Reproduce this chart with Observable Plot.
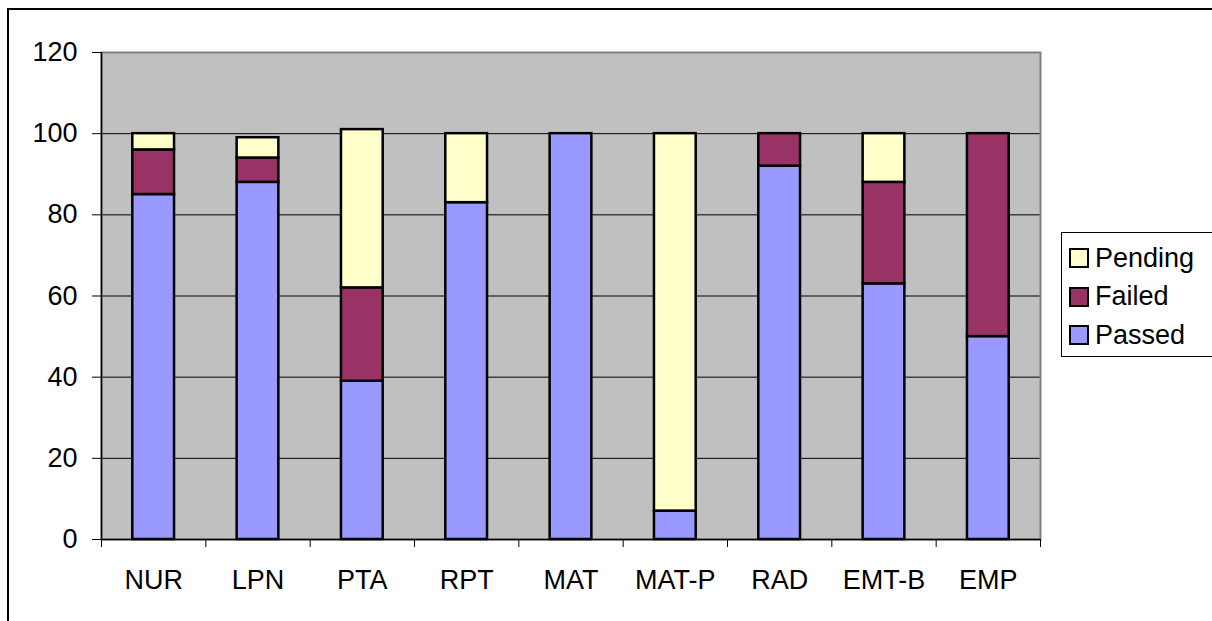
<!DOCTYPE html>
<html>
<head>
<meta charset="utf-8">
<script src="https://cdn.jsdelivr.net/npm/d3@7"></script>
<script src="https://cdn.jsdelivr.net/npm/@observablehq/plot@0.6"></script>
<style>
  html, body { margin: 0; padding: 0; background: #fff; }
  #wrap { position: relative; width: 1212px; height: 621px; overflow: hidden; font-family: "Liberation Sans", Arial, sans-serif; }
  #border { position: absolute; left: 7px; top: 8px; width: 1220px; height: 640px; border-left: 2px solid #000; border-top: 2px solid #000; box-sizing: border-box; }
  #legend { position: absolute; left: 1061px; top: 232px; width: 170px; height: 125px; border: 1px solid #000; background: #fff; box-sizing: border-box; }
  .item { position: absolute; left: 7px; height: 28px; display: flex; align-items: center; font-size: 27px; color: #000; }
  .sw { width: 20px; height: 20px; border: 2px solid #000; box-sizing: border-box; margin-right: 6px; }
  #chart { position: absolute; left: 0; top: 0; }
</style>
</head>
<body>
<div id="wrap">
  <div id="border"></div>
  <div id="chart"></div>
  <div id="legend"></div>
</div>
<script>
const categories = ["NUR", "LPN", "PTA", "RPT", "MAT", "MAT-P", "RAD", "EMT-B", "EMP"];
const passed  = [85, 88, 39, 83, 100, 7, 92, 63, 50];
const failed  = [11, 6, 23, 0, 0, 0, 8, 25, 50];
const pending = [4, 5, 39, 17, 0, 93, 0, 12, 0];
const seriesNames = ["Passed", "Failed", "Pending"];
const seriesColors = ["#9999FF", "#993366", "#FFFFCC"];
const yTicks = [0, 20, 40, 60, 80, 100, 120];

const seriesValues = [passed, failed, pending];
const rows = [];
categories.forEach((c, i) => {
  let base = 0;
  seriesValues.forEach((vals, s) => {
    const v = vals[i];
    if (v > 0) {
      rows.push({cat: c, series: seriesNames[s], x1: i + 0.3, x2: i + 0.7, y1: base, y2: base + v});
    }
    base += v;
  });
});

const boundaries = d3.range(categories.length + 1);
const centers = categories.map((c, i) => i + 0.5);

const chart = Plot.plot({
  width: 1212,
  height: 621,
  marginTop: 52,
  marginRight: 172,
  marginBottom: 82,
  marginLeft: 101,
  style: {fontSize: "27px", fontFamily: "'Liberation Sans', Arial, sans-serif", background: "transparent", color: "#000"},
  x: {type: "linear", domain: [0, categories.length], axis: null},
  y: {domain: [0, 120], axis: null},
  color: {domain: seriesNames, range: seriesColors},
  marks: [
    Plot.frame({fill: "#C0C0C0", stroke: null}),
    Plot.ruleY(yTicks.filter(d => d > 0 && d < 120), {stroke: "#000", strokeWidth: 1}),
    Plot.frame({stroke: "#808080", strokeWidth: 2}),
    Plot.rectY(rows, {x1: "x1", x2: "x2", y1: "y1", y2: "y2", fill: "series", stroke: "#000", strokeWidth: 2.5}),
    Plot.ruleX([0], {stroke: "#000", strokeWidth: 1.5}),
    Plot.ruleY([0], {stroke: "#000", strokeWidth: 1.5}),
    Plot.axisY({ticks: yTicks, tickSize: 9, tickPadding: 15, tickFormat: d => String(d), stroke: "#000", fill: "#000", fontSize: 27}),
    Plot.axisX({ticks: boundaries, tickSize: 8, tickFormat: () => "", stroke: "#000"}),
    Plot.axisX({ticks: centers, tickSize: 0, tickPadding: 30, tickFormat: d => categories[Math.round(d - 0.5)], fill: "#000", fontSize: 27})
  ]
});
document.getElementById("chart").appendChild(chart);

const legend = document.getElementById("legend");
const legendOrder = [2, 1, 0];
legendOrder.forEach((s, k) => {
  const item = document.createElement("div");
  item.className = "item";
  item.style.top = (11 + k * 38.5) + "px";
  const sw = document.createElement("div");
  sw.className = "sw";
  sw.style.background = seriesColors[s];
  const label = document.createElement("span");
  label.textContent = seriesNames[s];
  item.appendChild(sw);
  item.appendChild(label);
  legend.appendChild(item);
});
</script>
</body>
</html>
